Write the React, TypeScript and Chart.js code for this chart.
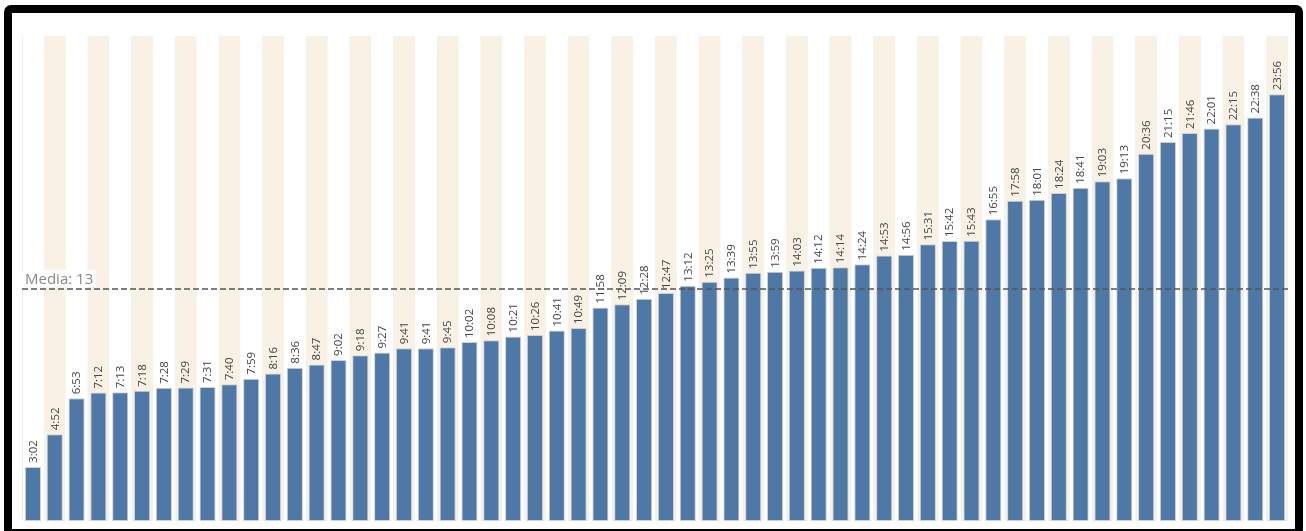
import React, { useEffect, useRef } from "react";
import { Chart, registerables } from "chart.js";

Chart.register(...registerables);

// Bar labels (mm:ss) as shown above every bar
const CATEGORIES: string[] = [
  "3:02", "4:52", "6:53", "7:12", "7:13", "7:18", "7:28", "7:29", "7:31", "7:40",
  "7:59", "8:16", "8:36", "8:47", "9:02", "9:18", "9:27", "9:41", "9:41", "9:45",
  "10:02", "10:08", "10:21", "10:26", "10:41", "10:49", "11:58", "12:09", "12:28", "12:47",
  "13:12", "13:25", "13:39", "13:55", "13:59", "14:03", "14:12", "14:14", "14:24", "14:53",
  "14:56", "15:31", "15:42", "15:43", "16:55", "17:58", "18:01", "18:24", "18:41", "19:03",
  "19:13", "20:36", "21:15", "21:46", "22:01", "22:15", "22:38", "23:56",
];

// Values in decimal minutes
const VALUES: number[] = [
  3.033, 4.867, 6.883, 7.2, 7.217, 7.3, 7.467, 7.483, 7.517, 7.667,
  7.983, 8.267, 8.6, 8.783, 9.033, 9.3, 9.45, 9.683, 9.683, 9.75,
  10.033, 10.133, 10.35, 10.433, 10.683, 10.817, 11.967, 12.15, 12.467, 12.783,
  13.2, 13.417, 13.65, 13.917, 13.983, 14.05, 14.2, 14.233, 14.4, 14.883,
  14.933, 15.517, 15.7, 15.717, 16.917, 17.967, 18.017, 18.4, 18.683, 19.05,
  19.217, 20.6, 21.25, 21.767, 22.017, 22.25, 22.633, 23.933,
];

const MEDIA_VALUE = 13;
const MEDIA_LABEL = "Media: 13";
const Y_MIN = 0;
const Y_MAX = 27.2;

const BAR_COLOR = "#4e78a6";
const BAR_BORDER = "#cdd2d9";
const STRIPE_COLOR = "#f8f1e4";
const LABEL_COLOR = "#454545";
const LINE_COLOR = "#555555";
const MEDIA_TEXT_COLOR = "#8a8a8a";

export default function App() {
  const canvasRef = useRef<HTMLCanvasElement>(null);

  useEffect(() => {
    document.body.style.margin = "0";
    const canvas = canvasRef.current;
    if (!canvas) return;

    const stripes = {
      id: "stripes",
      beforeDatasetsDraw(chart: any) {
        const { ctx, chartArea, scales } = chart;
        const n = CATEGORIES.length;
        const colW = (chartArea.right - chartArea.left) / n;
        ctx.save();
        ctx.fillStyle = STRIPE_COLOR;
        for (let i = 0; i < n; i++) {
          if (i % 2 === 1) {
            const cx = scales.x.getPixelForValue(i);
            ctx.fillRect(cx - colW / 2, chartArea.top, colW, chartArea.bottom - chartArea.top);
          }
        }
        ctx.strokeStyle = "#ececec";
        ctx.lineWidth = 1;
        ctx.beginPath();
        ctx.moveTo(chartArea.left + 0.5, chartArea.top);
        ctx.lineTo(chartArea.left + 0.5, chartArea.bottom);
        ctx.stroke();
        ctx.restore();
      },
    };

    const overlay = {
      id: "overlay",
      afterDatasetsDraw(chart: any) {
        const { ctx, chartArea, scales } = chart;
        const meta = chart.getDatasetMeta(0);
        ctx.save();
        ctx.font = "11.5px 'Open Sans', sans-serif";
        ctx.fillStyle = LABEL_COLOR;
        ctx.textAlign = "left";
        ctx.textBaseline = "middle";
        meta.data.forEach((bar: any, i: number) => {
          ctx.save();
          ctx.translate(bar.x, bar.y - 4);
          ctx.rotate(-Math.PI / 2);
          ctx.fillText(CATEGORIES[i], 0, 0.5);
          ctx.restore();
        });

        const y = Math.round(scales.y.getPixelForValue(MEDIA_VALUE));
        ctx.strokeStyle = LINE_COLOR;
        ctx.lineWidth = 1.5;
        ctx.setLineDash([6, 3]);
        ctx.beginPath();
        ctx.moveTo(chartArea.left, y);
        ctx.lineTo(chartArea.right, y);
        ctx.stroke();
        ctx.setLineDash([]);

        ctx.font = "15px 'Open Sans', sans-serif";
        const w = ctx.measureText(MEDIA_LABEL).width;
        ctx.fillStyle = "#ffffff";
        ctx.fillRect(chartArea.left, y - 19, w + 6, 17);
        ctx.fillStyle = MEDIA_TEXT_COLOR;
        ctx.textBaseline = "alphabetic";
        ctx.fillText(MEDIA_LABEL, chartArea.left + 3, y - 5);
        ctx.restore();
      },
    };

    const chart = new Chart(canvas, {
      type: "bar",
      data: {
        labels: CATEGORIES,
        datasets: [
          {
            data: VALUES,
            backgroundColor: BAR_COLOR,
            borderColor: BAR_BORDER,
            borderWidth: 1,
            borderSkipped: false,
            barPercentage: 0.74,
            categoryPercentage: 1,
          },
        ],
      },
      options: {
        responsive: false,
        animation: false,
        layout: { padding: { left: 22, right: 18, top: 36, bottom: 10 } },
        plugins: { legend: { display: false }, tooltip: { enabled: false } },
        scales: {
          x: { display: false, grid: { display: false } },
          y: { display: false, min: Y_MIN, max: Y_MAX, grid: { display: false } },
        },
      },
      plugins: [stripes, overlay],
    });

    return () => chart.destroy();
  }, []);

  return (
    <div style={{ position: "relative", width: 1306, height: 531, overflow: "hidden", background: "#fff" }}>
      <canvas ref={canvasRef} width={1306} height={531} style={{ position: "absolute", left: 0, top: 0 }} />
      <div
        style={{
          position: "absolute",
          left: 4,
          top: 5,
          width: 1299,
          height: 532,
          boxSizing: "border-box",
          border: "8px solid #000",
          borderRadius: 7,
          pointerEvents: "none",
        }}
      />
    </div>
  );
}
